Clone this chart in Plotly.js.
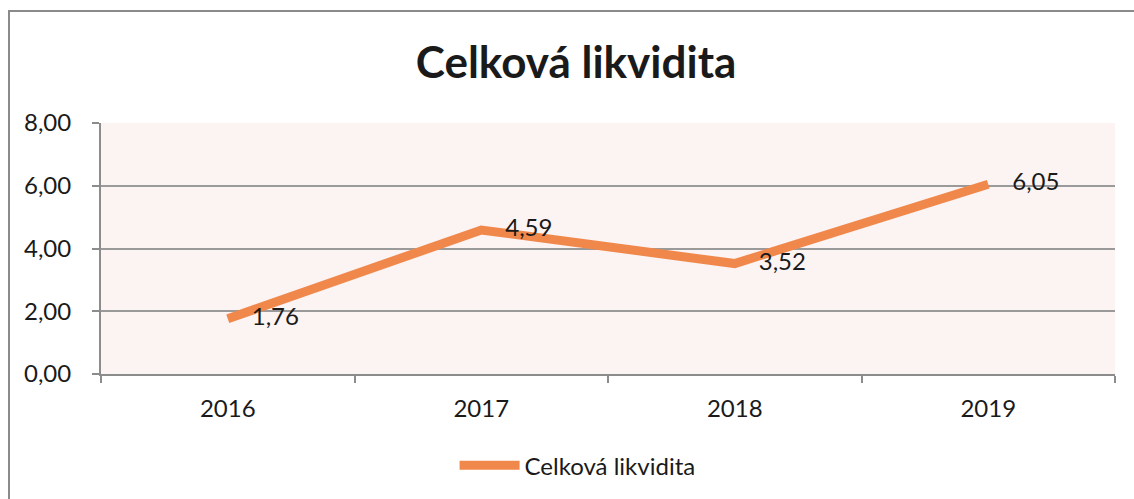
<!DOCTYPE html>
<html>
<head>
<meta charset="utf-8">
<script src="https://cdn.plot.ly/plotly-3.0.1.min.js"></script>
<style>
html,body{margin:0;padding:0;background:#fff;overflow:hidden;}
#frame{position:absolute;left:8px;top:10px;width:1140px;height:500px;border:2px solid #8a8a8a;box-sizing:border-box;}
#chart{position:absolute;left:0;top:0;width:1134px;height:499px;}
</style>
</head>
<body>
<div id="frame"></div>
<div id="chart"></div>
<script>
const years = ['2016', '2017', '2018', '2019'];
const likvidita = [1.76, 4.59, 3.52, 6.05];
const yTicks = [0, 2, 4, 6, 8];
const seriesName = 'Celková likvidita';
const chartTitle = 'Celková likvidita';

const FONT = 'Lato, "Open Sans", sans-serif';

const trace = {
  x: years,
  y: likvidita,
  type: 'scatter',
  mode: 'lines+text',
  name: seriesName,
  line: {color: '#f0884c', width: 9},
  text: likvidita.map(v => '\u2002\u2002' + v.toFixed(2).replace('.', ',')),
  textposition: 'middle right',
  textfont: {family: FONT, size: 24, color: '#1a1a1a'},
  cliponaxis: false
};

const layout = {
  width: 1134, height: 499,
  margin: {l: 101, r: 19, t: 123, b: 124},
  paper_bgcolor: 'rgba(0,0,0,0)',
  plot_bgcolor: '#fcf3f3',
  separators: ',.',
  title: {
    text: '<b>' + chartTitle + '</b>',
    x: 0.508, xanchor: 'center', y: 0.875, yanchor: 'middle',
    font: {family: FONT, size: 44, color: '#1a1a1a'}
  },
  font: {family: FONT, size: 24, color: '#1a1a1a'},
  xaxis: {
    type: 'category',
    range: [-0.5, 3.5],
    showgrid: false,
    showline: true, linecolor: '#8c8c8c', linewidth: 2,
    ticks: 'outside', tickson: 'boundaries', ticklen: 7, tickcolor: '#8c8c8c', tickwidth: 2,
    tickfont: {size: 24, color: '#1a1a1a'},
    ticklabelstandoff: 12,
    zeroline: false
  },
  yaxis: {
    range: [0, 8],
    tickvals: yTicks,
    tickformat: '.2f',
    showgrid: true, gridcolor: '#9a9a9a', gridwidth: 2,
    showline: true, linecolor: '#8c8c8c', linewidth: 2,
    ticks: 'outside', ticklen: 7, tickcolor: '#8c8c8c', tickwidth: 2,
    tickfont: {size: 24, color: '#1a1a1a'},
    zeroline: false,
    ticklabelstandoff: 16
  },
  showlegend: true,
  legend: {
    orientation: 'h', x: 0.47, xanchor: 'center', y: -0.36, yanchor: 'middle',
    font: {size: 24, color: '#1a1a1a'},
    itemwidth: 60
  }
};

Plotly.newPlot('chart', [trace], layout, {displayModeBar: false, staticPlot: true});
</script>
</body>
</html>
